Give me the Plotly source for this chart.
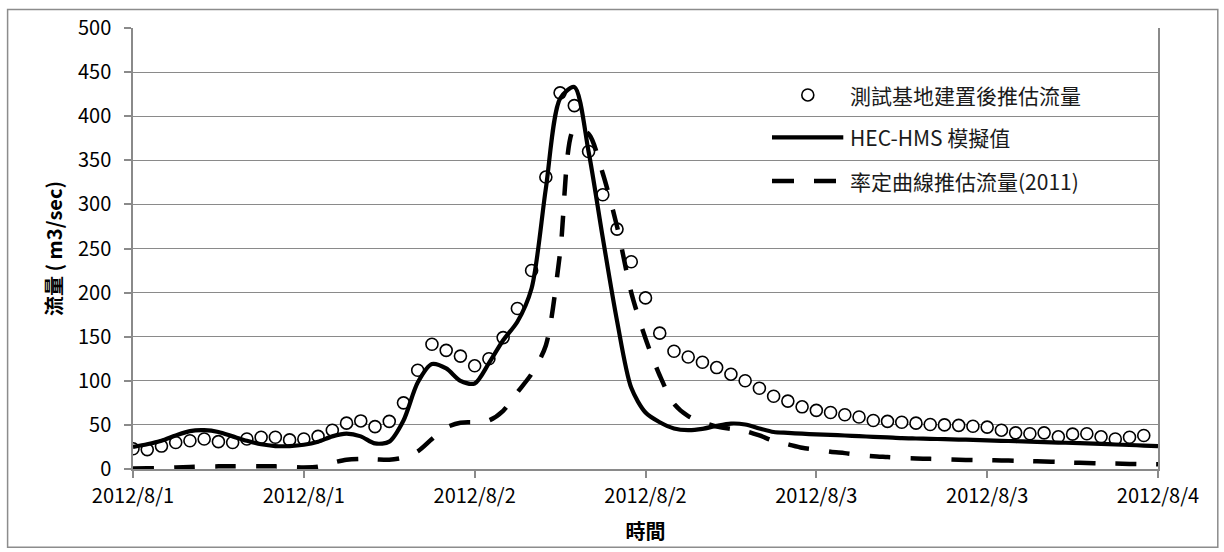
import pandas as pd
import plotly.graph_objects as go

# Hourly time axis, 2012/8/1 00:00 - 2012/8/4 00:00
hours_obs = pd.date_range("2012-08-01 00:00", periods=72, freq="h")
hours_sim = pd.date_range("2012-08-01 00:00", periods=73, freq="h")

# 測試基地建置後推估流量 (m3/sec), hourly
flow_observed = [
    23, 22, 26, 30, 32, 34, 31, 30, 34, 36, 36, 33, 34, 37, 44, 52, 54.5, 48,
    54, 75, 112, 141.5, 134.5, 128, 117, 125, 149, 182, 225, 331, 426.5, 412,
    360, 311, 272, 235, 194, 154, 133.5, 127, 121, 115, 107.5, 100, 91.5, 82.5,
    77, 70.5, 66.5, 64, 61.5, 59, 55, 54, 53, 52, 50.5, 50, 49.5, 48.5, 47.5,
    44, 41, 40, 41, 36.5, 39.5, 40, 36.5, 34, 36, 38,
]

# HEC-HMS 模擬值 (m3/sec), hourly
flow_hms = [
    25, 28, 32, 38, 43, 44, 42, 37, 32, 28, 26, 26, 27.5, 31, 37, 40, 37, 29,
    31, 55, 98, 119, 114, 100, 97, 120, 146, 167, 205, 318, 420, 433, 360, 262,
    168, 92, 64, 53, 46, 44, 45.5, 49, 51.5, 50.5, 46, 42, 41, 40, 39.3, 38.6,
    38, 37.2, 36.5, 35.8, 35, 34.6, 34.2, 33.8, 33.4, 33, 32.5, 32, 31.5, 31,
    30.5, 30, 29.5, 29, 28.4, 27.8, 27.2, 26.6, 26,
]

# 率定曲線推估流量(2011) (m3/sec), hourly
flow_rating = [
    0.5, 0.8, 1.2, 1.8, 2.3, 2.8, 3, 3.2, 3.2, 3, 3, 2.5, 1.8, 2.5, 7, 10.5,
    11.5, 11, 10.5, 13, 20, 34, 47, 52.5, 53, 55, 66, 87, 108, 140, 245, 386,
    380, 335, 275, 200, 148, 106, 74, 60, 53, 48, 45.5, 43, 38, 32, 28, 24, 22,
    19.5, 18, 16, 14.5, 13.5, 12.5, 12, 11.5, 11, 10.5, 10.2, 10, 9.7, 9.3, 9,
    8.5, 8, 7.2, 6.8, 6.4, 6.1, 5.8, 5.5, 5.3,
]

series_names = ["測試基地建置後推估流量", "HEC-HMS 模擬值", "率定曲線推估流量(2011)"]

tick_times = pd.date_range("2012-08-01 00:00", periods=7, freq="12h")
tick_labels = ["2012/8/1", "2012/8/1", "2012/8/2", "2012/8/2",
               "2012/8/3", "2012/8/3", "2012/8/4"]

FONT = "Noto Sans CJK TC"
GRID = "#8a8a8a"

W, H = 1224, 552
L, R, T, B = 132.7, 66.3, 23.3, 82.7
PW, PH = W - L - R, H - T - B


def px(x):
    return (x - L) / PW


def py(y):
    return (H - B - y) / PH


fig = go.Figure()

fig.add_trace(go.Scatter(
    x=hours_obs, y=flow_observed, mode="markers", name=series_names[0],
    marker=dict(symbol="circle", size=12, color="white",
                line=dict(color="black", width=1.6)),
))
fig.add_trace(go.Scatter(
    x=hours_sim, y=flow_hms, mode="lines", name=series_names[1],
    line=dict(color="black", width=4.2, shape="spline", smoothing=0.8),
))
fig.add_trace(go.Scatter(
    x=hours_sim, y=flow_rating, mode="lines", name=series_names[2],
    line=dict(color="black", width=4.5, dash="21px,20px", shape="spline", smoothing=0.8),
))

shapes = [
    # outer chart border
    dict(type="rect", xref="paper", yref="paper",
         x0=px(7.3), x1=px(1217.5), y0=py(548.5), y1=py(4.7),
         line=dict(color="#8c8c8c", width=1.5), fillcolor="rgba(0,0,0,0)", layer="below"),
    # legend glyphs
    dict(type="circle", xref="paper", yref="paper", xsizemode="pixel", ysizemode="pixel",
         xanchor=px(807.5), yanchor=py(91), x0=-6, x1=6, y0=-6, y1=6,
         line=dict(color="black", width=1.6), fillcolor="white"),
    dict(type="line", xref="paper", yref="paper",
         x0=px(771.7), x1=px(843), y0=py(134), y1=py(134),
         line=dict(color="black", width=4.2)),
    dict(type="line", xref="paper", yref="paper",
         x0=px(771.7), x1=px(836), y0=py(178), y1=py(178),
         line=dict(color="black", width=4.5, dash="22px,20px")),
]

annotations = [
    dict(xref="paper", yref="paper", x=px(848), y=py(yc), text=name,
         xanchor="left", yanchor="middle", showarrow=False,
         font=dict(family=FONT, size=21, color="#1a1a1a"))
    for name, yc in zip(series_names, [91, 134, 178])
]

fig.update_layout(
    width=W, height=H,
    margin=dict(l=L, r=R, t=T, b=B, pad=0),
    paper_bgcolor="white", plot_bgcolor="white",
    showlegend=False,
    font=dict(family=FONT, size=20, color="black"),
    shapes=shapes,
    annotations=annotations,
)

fig.update_xaxes(
    type="date",
    range=[tick_times[0], tick_times[-1]],
    tickvals=tick_times, ticktext=tick_labels,
    showgrid=False, zeroline=False,
    showline=True, linecolor=GRID, linewidth=1.5,
    ticks="outside", ticklen=7, tickcolor=GRID, tickwidth=1.5,
    ticklabelstandoff=1,
    tickfont=dict(family=FONT, size=20, color="black"),
    title=dict(text="<b>時間</b>", font=dict(family=FONT, size=20, color="black"), standoff=17),
)

fig.update_yaxes(
    range=[0, 500], dtick=50, tick0=0,
    showgrid=True, gridcolor=GRID, gridwidth=1.3,
    zeroline=False,
    showline=True, mirror=True, linecolor=GRID, linewidth=1.5,
    ticks="outside", ticklen=7, tickcolor=GRID, tickwidth=1.5,
    ticklabelstandoff=9,
    tickfont=dict(family=FONT, size=20, color="black"),
    title=dict(text="<b>流量 ( m3/sec)</b>", font=dict(family=FONT, size=20, color="black"), standoff=10),
)

fig.write_html("out.html")
